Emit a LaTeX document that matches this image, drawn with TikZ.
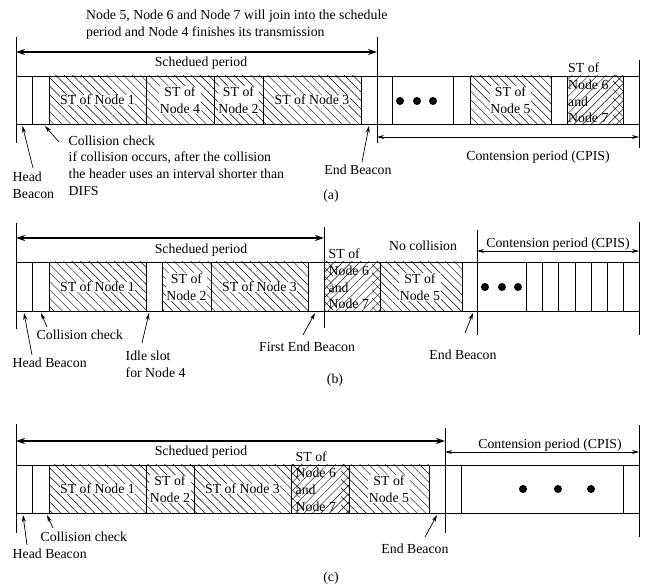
\documentclass[tikz,border=0pt]{standalone}
\usepackage{fontspec}
\setmainfont{Liberation Serif}
\usetikzlibrary{patterns.meta,arrows.meta}
\begin{document}
\begin{tikzpicture}[x=1pt,y=-1pt,
  every node/.style={font=\fontsize{13.8}{16.8}\selectfont, inner sep=0.5pt},
  lbl/.style={fill=white, align=center},
  plain/.style={align=left},
  cellline/.style={line width=0.8pt},
  tall/.style={line width=0.8pt},
  hatchnw/.style={pattern={Lines[angle=-45,distance=6pt,line width=0.45pt]}},
  hatchne/.style={pattern={Lines[angle=45,distance=6pt,line width=0.45pt]}},
  schedarrow/.style={line width=1.4pt, {Stealth[length=9pt,width=6pt]}-{Stealth[length=9pt,width=6pt]}},
  contarrow/.style={line width=0.7pt, {Stealth[length=7pt,width=4pt]}-{Stealth[length=7pt,width=4pt]}},
  pointer/.style={line width=0.7pt, -{Stealth[length=7pt,width=4pt]}}
]
\useasboundingbox (0,0) rectangle (649,588);

% ================= (a) =================
\fill[hatchnw] (49,76) rectangle (361,124);
\fill[hatchnw] (470,76) rectangle (551,124);
\fill[hatchne] (567,76) rectangle (623,124);
\fill[hatchnw] (613,76) rectangle (623,124);
\draw[cellline] (16,76) -- (639,76) (16,124) -- (639,124);
\foreach \x in {32,49,146,214,263,361,392,453,470,551,567,623}
  \draw[cellline] (\x,76) -- (\x,124);
\draw[tall] (16,37) -- (16,143);
\draw[tall] (377,37) -- (377,143);
\draw[tall] (639,60) -- (639,148);
\foreach \x in {400,417,433} \fill (\x,101) circle[radius=4pt];

\coordinate (aS1) at (16,52);  \coordinate (aS2) at (377,52);
\coordinate (aC1) at (377,137); \coordinate (aC2) at (639,137);
\draw[schedarrow] (aS1) -- (aS2);
\draw[contarrow] (aC1) -- (aC2);

\node[plain, anchor=west] (atop) at (85.5,24.5) {Node 5, Node 6 and Node 7 will join into the schedule\\period and Node 4 finishes its transmission};
\node (asp) at (201,63) {Schedued period};
\node[lbl] (a1) at (97.5,100) {ST of Node 1};
\node[lbl] (a4) at (180,100) {ST of\\Node 4};
\node[lbl] (a2) at (238.5,100) {ST of\\Node 2};
\node[lbl] (a3) at (312,100) {ST of Node 3};
\node[lbl] (a5) at (510.5,100) {ST of\\Node 5};
\node[plain, anchor=west] (a67) at (567.5,93) {ST of\\Node 6\\and\\Node 7};
\node[plain, anchor=west] (acc) at (68,165.5) {Collision check\\if collision occurs, after the collision\\the header uses an interval shorter than\\DIFS};
\node[plain, anchor=west] (ahb) at (12,185) {Head\\Beacon};
\node (aeb) at (358,170) {End Beacon};
\node (acap) at (331,196) {(a)};
\node (acont) at (538,157) {Contension period (CPIS)};

\coordinate (ahbT) at (33,168);  \coordinate (ahbH) at (22.5,126);
\coordinate (accT) at (59,142);  \coordinate (accH) at (45,126);
\coordinate (aebT) at (362,162); \coordinate (aebH) at (369,126);
\draw[pointer] (ahbT) -- (ahbH);
\draw[pointer] (accT) -- (accH);
\draw[pointer] (aebT) -- (aebH);

% ================= (b) =================
\fill[hatchnw] (49,262) rectangle (146,311);
\fill[hatchnw] (162,262) rectangle (308,311);
\fill[hatchnw] (380,262) rectangle (462,311);
\fill[hatchne] (324,262) rectangle (380,311);
\fill[hatchnw] (324,262) rectangle (333,311);
\fill[hatchnw] (372,262) rectangle (380,311);
\draw[cellline] (16,262) -- (639,262) (16,311) -- (639,311);
\foreach \x in {32,49,146,162,211,308,380,462,526,542,558,575,591,607,623}
  \draw[cellline] (\x,262) -- (\x,311);
\draw[tall] (16,223) -- (16,329);
\draw[tall] (324,227) -- (324,328);
\draw[tall] (477,230) -- (477,335);
\draw[tall] (639,222) -- (639,335);
\foreach \x in {485,502,518} \fill (\x,287) circle[radius=4pt];

\coordinate (bS1) at (16,238);  \coordinate (bS2) at (324,238);
\coordinate (bC1) at (477,251); \coordinate (bC2) at (639,251);
\draw[schedarrow] (bS1) -- (bS2);
\draw[contarrow] (bC1) -- (bC2);

\node (bsp) at (201,250) {Schedued period};
\node[lbl] (b1) at (97.5,287) {ST of Node 1};
\node[lbl] (b2) at (186.5,287) {ST of\\Node 2};
\node[lbl] (b3) at (259.5,287) {ST of Node 3};
\node[plain, anchor=west] (b67) at (328,279) {ST of\\Node 6\\and\\Node 7};
\node (bnc) at (423,246) {No collision};
\node[lbl] (b5) at (420,287) {ST of\\Node 5};
\node (bcont) at (558,244) {Contension period (CPIS)};
\node[plain, anchor=west] (bcc) at (36,335) {Collision check};
\node[plain, anchor=west] (bhb) at (12,363) {Head Beacon};
\node[plain, anchor=west] (bidle) at (125,364) {Idle slot\\for Node 4};
\node (bfeb) at (307,347) {First End Beacon};
\node (beb) at (463,355) {End Beacon};
\node (bcap) at (335,380) {(b)};

\coordinate (bhbT) at (32,355);  \coordinate (bhbH) at (24,313);
\coordinate (bccT) at (47,327);  \coordinate (bccH) at (41,313);
\coordinate (biT) at (142,343);  \coordinate (biH) at (149,313);
\coordinate (bfT) at (303,335);  \coordinate (bfH) at (315,313);
\coordinate (beT) at (465,333);  \coordinate (beH) at (473,313);
\draw[pointer] (bhbT) -- (bhbH);
\draw[pointer] (bccT) -- (bccH);
\draw[pointer] (biT) -- (biH);
\draw[pointer] (bfT) -- (bfH);
\draw[pointer] (beT) -- (beH);

% ================= (c) =================
\fill[hatchnw] (49,465) rectangle (291,513);
\fill[hatchnw] (349,465) rectangle (429,513);
\fill[hatchne] (291,465) rectangle (349,513);
\fill[hatchnw] (291,465) rectangle (300,513);
\fill[hatchnw] (341,465) rectangle (349,513);
\draw[cellline] (16,465) -- (639,465) (16,513) -- (639,513);
\foreach \x in {32,49,146,194,291,349,429,461,623}
  \draw[cellline] (\x,465) -- (\x,513);
\draw[tall] (16,424) -- (16,533);
\draw[tall] (445,428) -- (445,533);
\draw[tall] (639,425) -- (639,537);
\foreach \x in {523,558,591} \fill (\x,489) circle[radius=4pt];

\coordinate (cS1) at (16,441);  \coordinate (cS2) at (445,441);
\coordinate (cC1) at (445,452); \coordinate (cC2) at (639,452);
\draw[schedarrow] (cS1) -- (cS2);
\draw[contarrow] (cC1) -- (cC2);

\node (csp) at (201,452) {Schedued period};
\node[lbl] (c1) at (97.5,489) {ST of Node 1};
\node[lbl] (c2) at (170,489) {ST of\\Node 2};
\node[lbl] (c3) at (242.5,489) {ST of Node 3};
\node[plain, anchor=west] (c67) at (295,481.5) {ST of\\Node 6\\and\\Node 7};
\node[lbl] (c5) at (389,489) {ST of\\Node 5};
\node (ccont) at (550,445) {Contension period (CPIS)};
\node[plain, anchor=west] (ccc) at (40,537) {Collision check};
\node[plain, anchor=west] (chb) at (12,554) {Head Beacon};
\node (ceb) at (415,549) {End Beacon};
\node (ccap) at (331,578) {(c)};

\coordinate (chbT) at (27,545);  \coordinate (chbH) at (23,515);
\coordinate (cccT) at (53,528);  \coordinate (cccH) at (47,515);
\coordinate (ceT) at (425,537);  \coordinate (ceH) at (437,515);
\draw[pointer] (chbT) -- (chbH);
\draw[pointer] (cccT) -- (cccH);
\draw[pointer] (ceT) -- (ceH);
\end{tikzpicture}
\end{document}
